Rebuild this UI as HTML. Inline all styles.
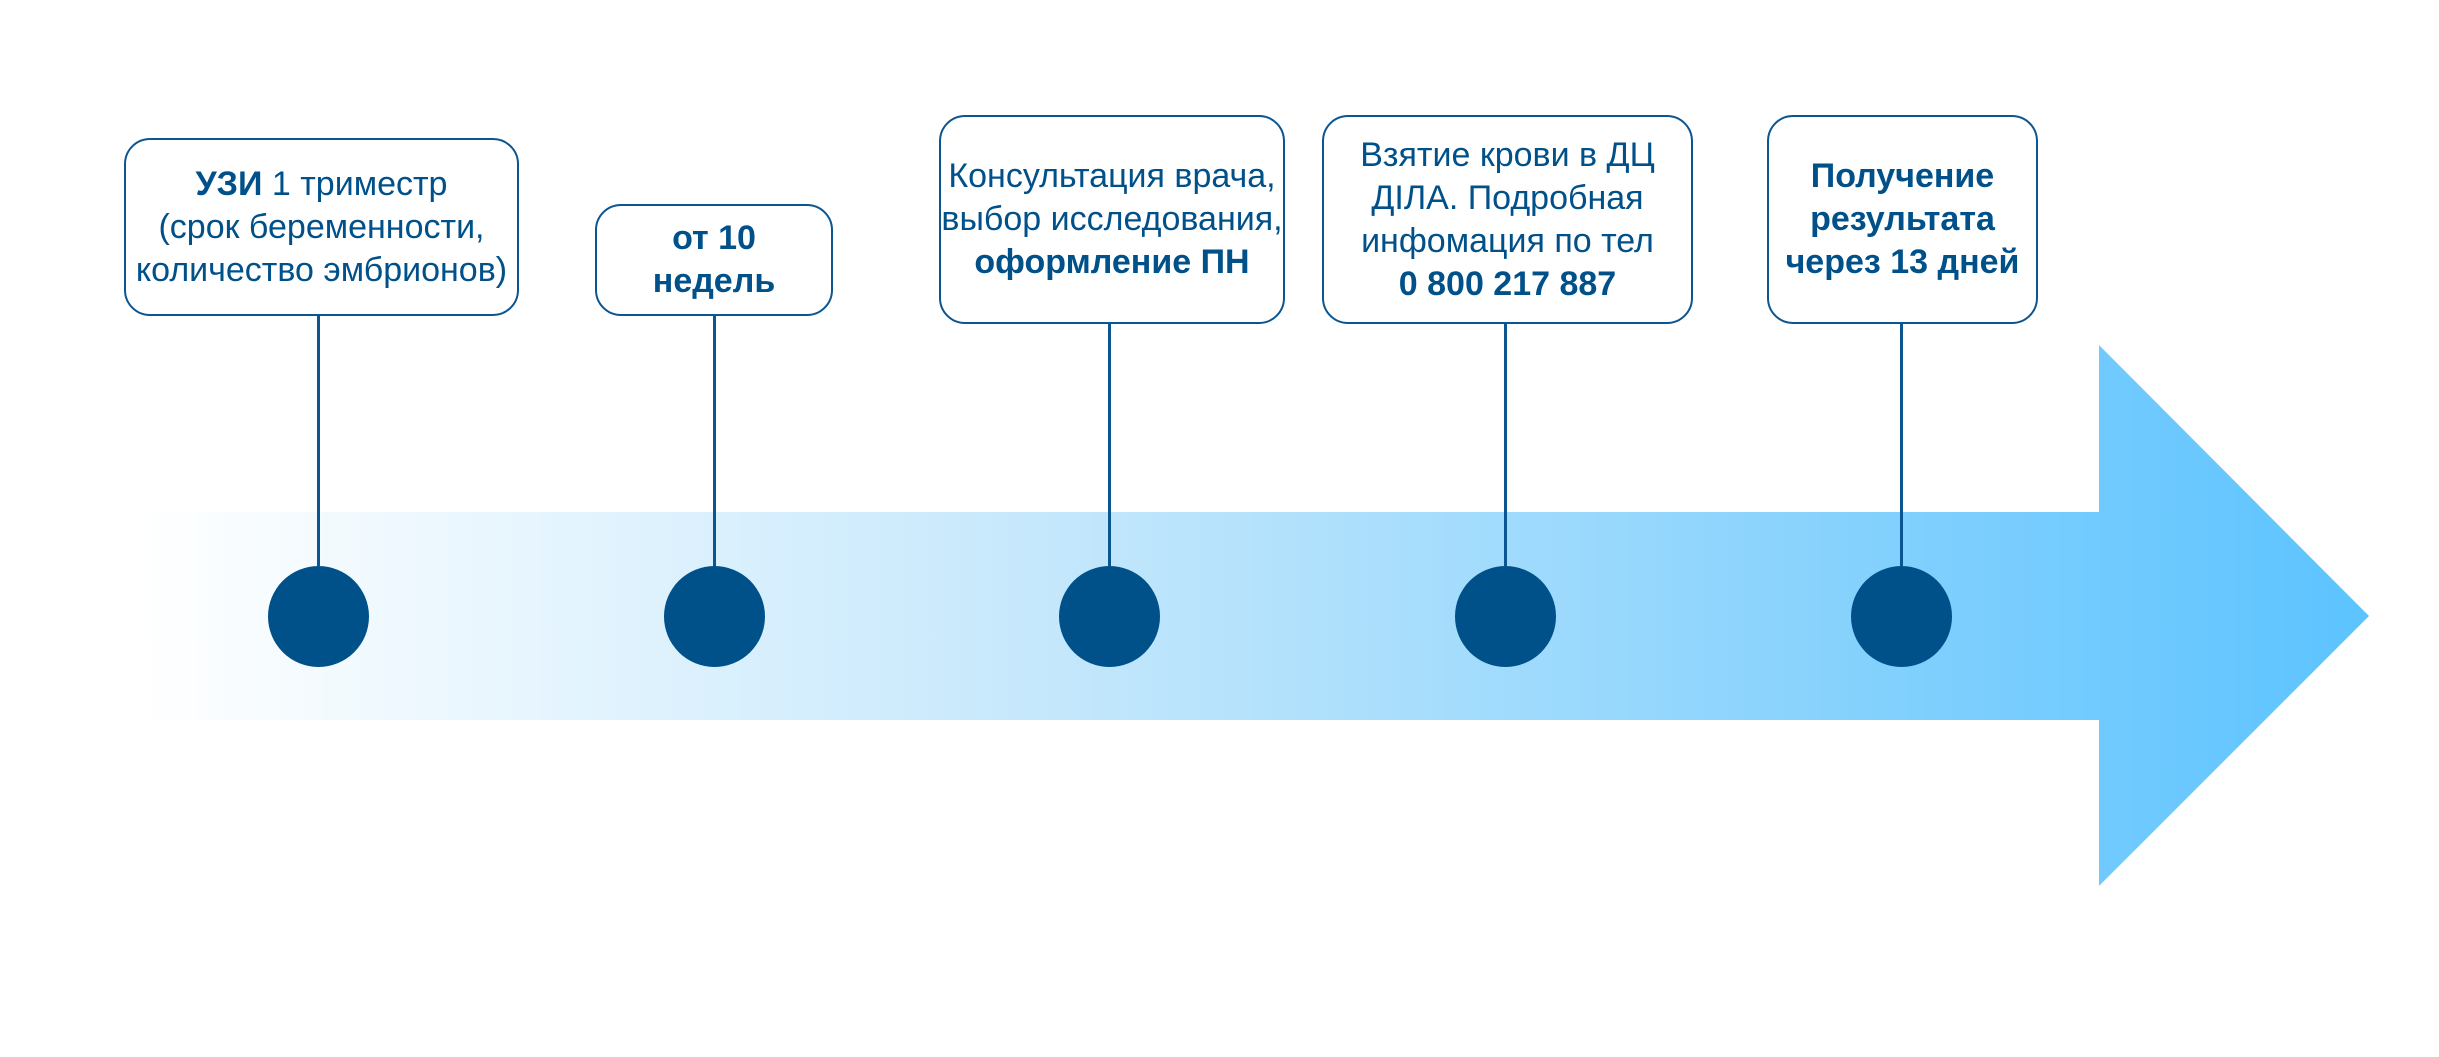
<!DOCTYPE html>
<html><head><meta charset="utf-8"><style>
html,body{margin:0;padding:0;background:#fff;width:2439px;height:1057px;overflow:hidden;position:relative;font-family:"Liberation Sans","DejaVu Sans",sans-serif;}
.box{position:absolute;border:2px solid #0b5591;border-radius:26px;box-sizing:border-box;display:flex;align-items:center;justify-content:center;text-align:center;color:#00508a;font-size:34px;line-height:43px;background:#fff;white-space:nowrap;}
.line{position:absolute;width:3px;background:#0b5591;}
.dot{position:absolute;width:101px;height:101px;border-radius:50%;background:#00508a;}
b{font-weight:bold;}
</style></head><body>
<svg width="2439" height="1057" style="position:absolute;left:0;top:0">
<defs><linearGradient id="g" x1="140" y1="0" x2="2369" y2="0" gradientUnits="userSpaceOnUse">
<stop offset="0" stop-color="#ffffff"/><stop offset="0.4" stop-color="#c6e8fc"/><stop offset="1" stop-color="#5cc3fe"/></linearGradient></defs>
<polygon points="140,512 2099,512 2099,345 2369,616 2099,886 2099,720 140,720" fill="url(#g)"/>
</svg>
<div class="line" style="left:317px;top:316px;height:250px"></div>
<div class="line" style="left:713px;top:315px;height:251px"></div>
<div class="line" style="left:1108px;top:323px;height:243px"></div>
<div class="line" style="left:1504px;top:323px;height:243px"></div>
<div class="line" style="left:1900px;top:323px;height:243px"></div>
<div class="dot" style="left:268px;top:566px"></div>
<div class="dot" style="left:664px;top:566px"></div>
<div class="dot" style="left:1059px;top:566px"></div>
<div class="dot" style="left:1455px;top:566px"></div>
<div class="dot" style="left:1851px;top:566px"></div>
<div class="box" style="left:124px;top:138px;width:395px;height:178px"><div><b>УЗИ</b> 1 триместр<br>(срок беременности,<br>количество эмбрионов)</div></div>
<div class="box" style="left:595px;top:204px;width:238px;height:112px"><div><b>от 10<br>недель</b></div></div>
<div class="box" style="left:939px;top:115px;width:346px;height:209px"><div>Консультация врача,<br>выбор исследования,<br><b>оформление ПН</b></div></div>
<div class="box" style="left:1322px;top:115px;width:371px;height:209px"><div>Взятие крови в ДЦ<br>ДІЛА. Подробная<br>инфомация по тел<br><b>0 800 217 887</b></div></div>
<div class="box" style="left:1767px;top:115px;width:271px;height:209px"><div><b>Получение<br>результата<br>через 13 дней</b></div></div>
</body></html>
